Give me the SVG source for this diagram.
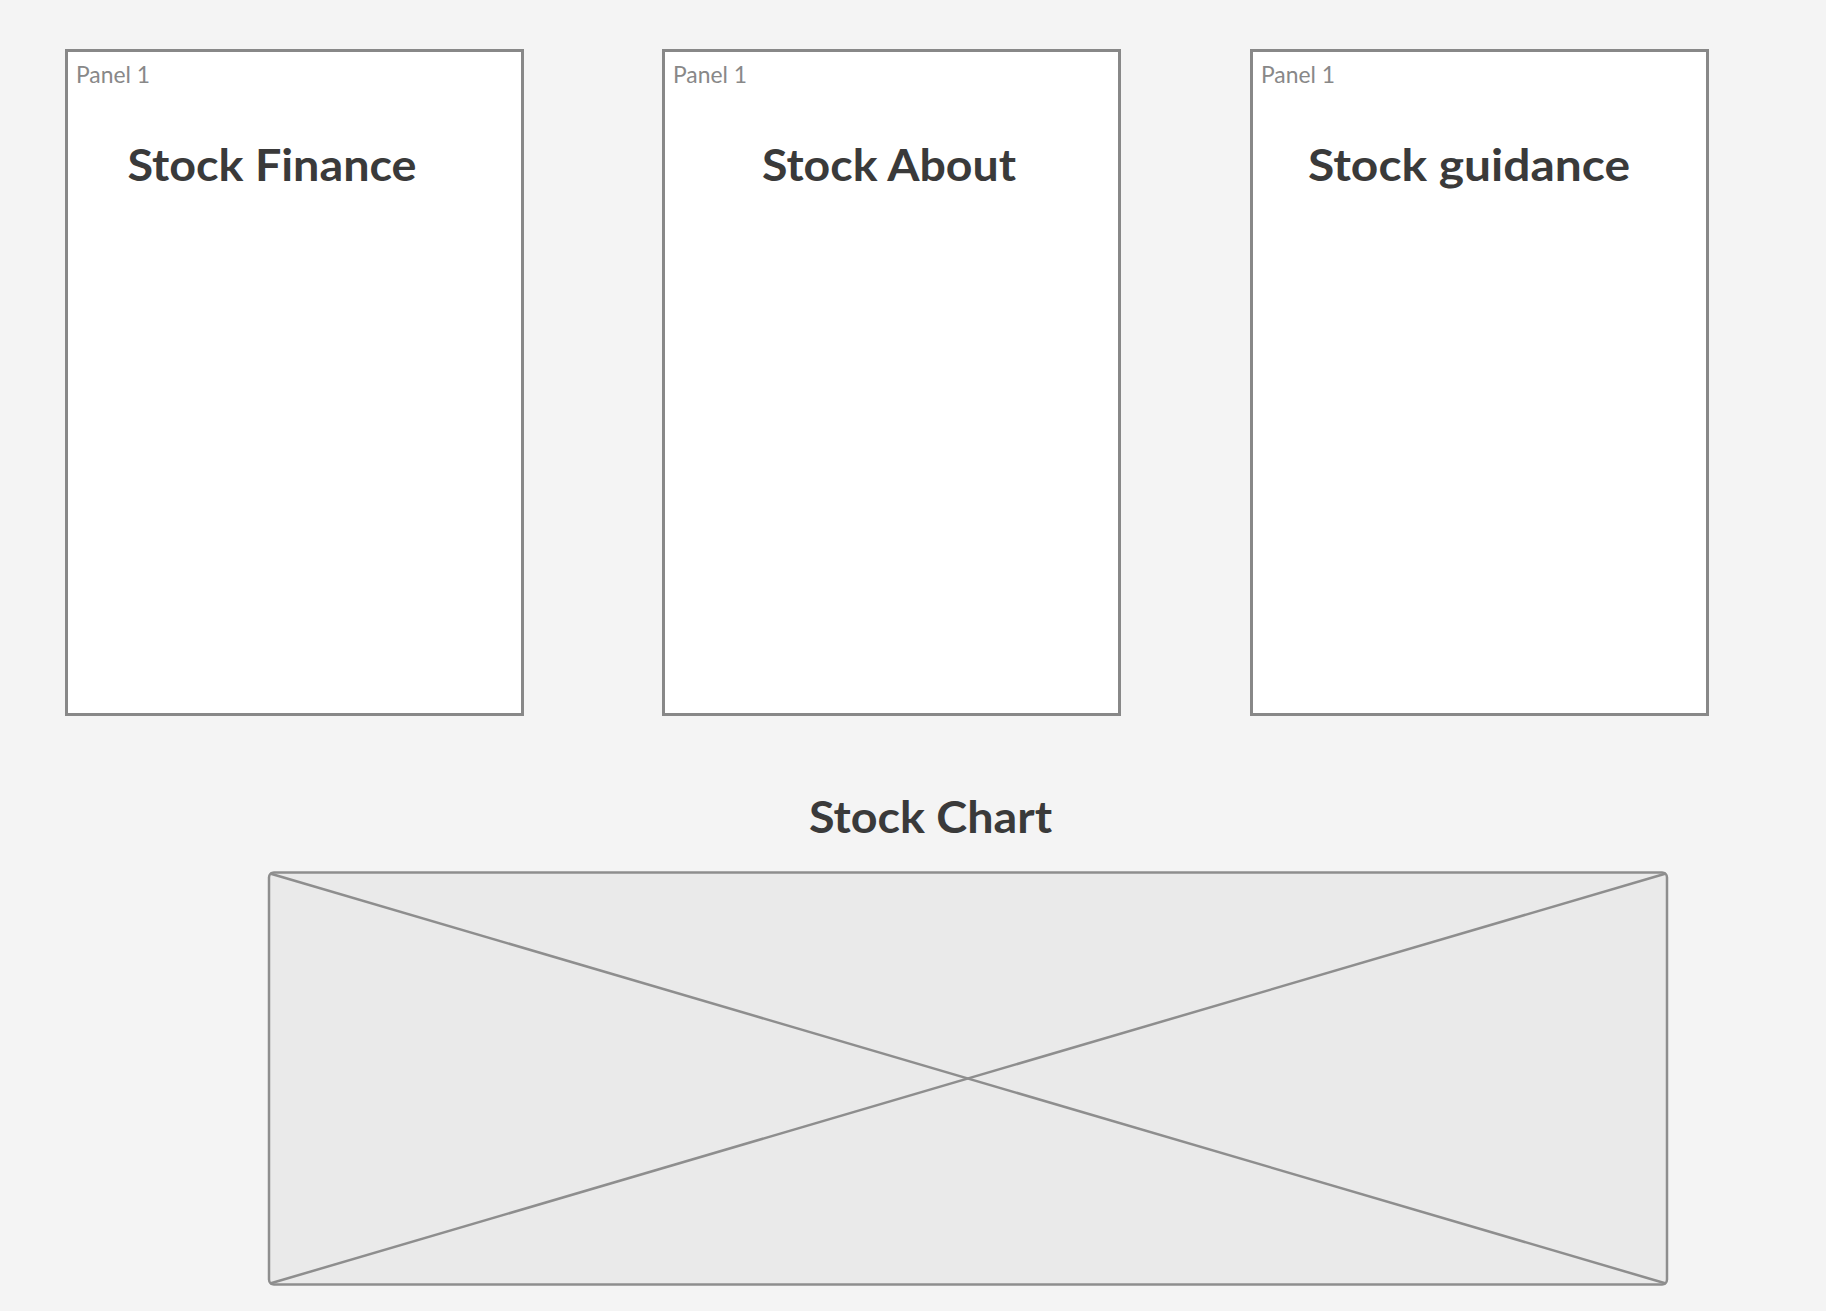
<svg xmlns="http://www.w3.org/2000/svg" width="1826" height="1311" viewBox="0 0 1826 1311">
<style>
.panel{fill:#ffffff;stroke:#888888;stroke-width:3}
.lbl{font-family:Lato,"Liberation Sans",sans-serif;font-size:23px;fill:#888888}
.title{font-family:Lato,"Liberation Sans",sans-serif;font-size:44px;font-weight:bold;fill:#3a3a3a;text-anchor:middle}
.chart{fill:#eaeaea;stroke:#8e8e8e;stroke-width:2.5}
.x{stroke:#8e8e8e;stroke-width:2.5;fill:none}
</style>
<rect x="0" y="0" width="1826" height="1311" fill="#f4f4f4"/>
<g id="panel-finance">
<rect class="panel" x="66.5" y="50.5" width="456" height="664"/>
<text class="lbl" x="76" y="83" textLength="74" lengthAdjust="spacingAndGlyphs">Panel 1</text>
<text class="title" x="272" y="181" textLength="289" lengthAdjust="spacingAndGlyphs">Stock Finance</text>
</g>
<g id="panel-about">
<rect class="panel" x="663.5" y="50.5" width="456" height="664"/>
<text class="lbl" x="673" y="83" textLength="74" lengthAdjust="spacingAndGlyphs">Panel 1</text>
<text class="title" x="889" y="181" textLength="254" lengthAdjust="spacingAndGlyphs">Stock About</text>
</g>
<g id="panel-guidance">
<rect class="panel" x="1251.5" y="50.5" width="456" height="664"/>
<text class="lbl" x="1261" y="83" textLength="74" lengthAdjust="spacingAndGlyphs">Panel 1</text>
<text class="title" x="1469" y="181" textLength="322" lengthAdjust="spacingAndGlyphs">Stock guidance</text>
</g>
<g id="stock-chart">
<text class="title" x="930.5" y="833" textLength="243" lengthAdjust="spacingAndGlyphs">Stock Chart</text>
<rect class="chart" x="269" y="872.5" width="1398" height="412" rx="5"/>
<line class="x" x1="270" y1="873.5" x2="1666" y2="1283.5"/>
<line class="x" x1="270" y1="1283.5" x2="1666" y2="873.5"/>
</g>
<g id="connectors"></g>
</svg>
